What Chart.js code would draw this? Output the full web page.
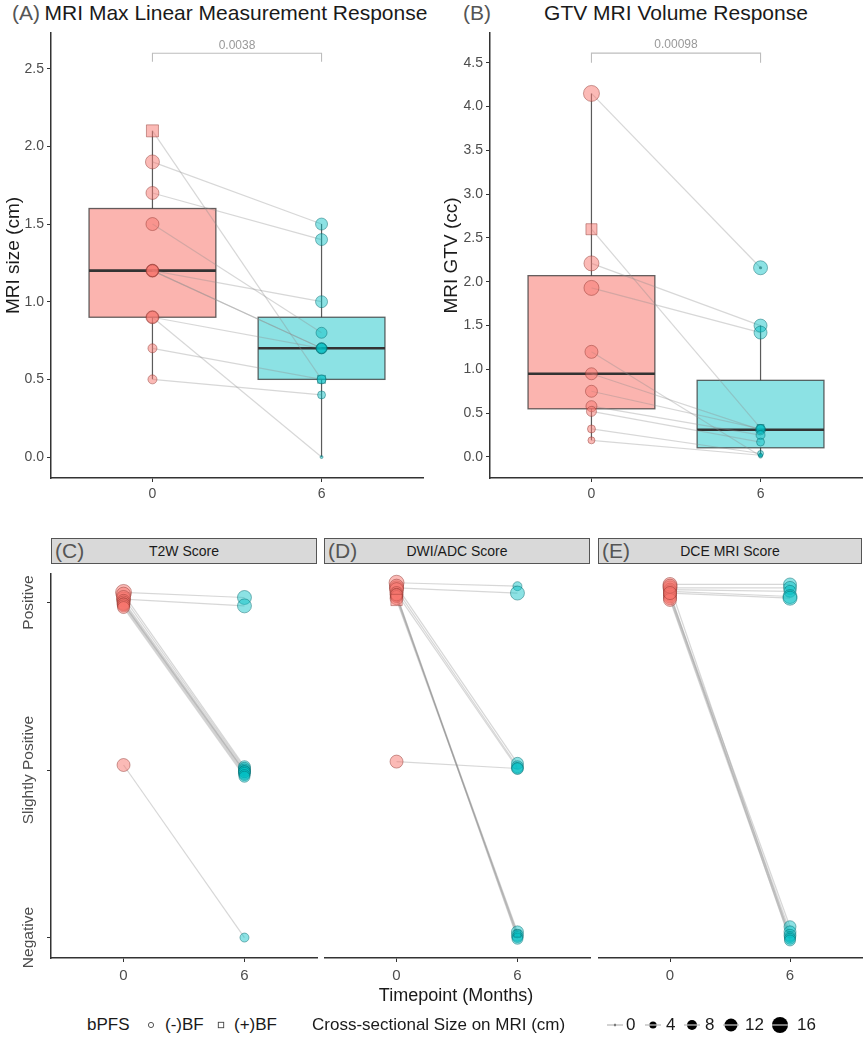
<!DOCTYPE html>
<html><head><meta charset="utf-8">
<script src="https://cdn.jsdelivr.net/npm/chart.js@4.4.1/dist/chart.umd.min.js"></script>
<style>
body{margin:0;background:#fff;}
#wrap{position:relative;width:864px;height:1050px;font-family:"Liberation Sans",Arial,sans-serif;overflow:hidden;}
.cv{position:absolute;}
.ttl{position:absolute;top:0;font-size:21px;line-height:26px;color:#1a1a1a;white-space:nowrap;}
.tag{position:absolute;top:0;font-size:21px;line-height:26px;color:#555;white-space:nowrap;}
.strip{position:absolute;top:538px;height:26px;background:#d9d9d9;border:1px solid #555;box-sizing:border-box;}
.strip .sl{position:absolute;left:3px;top:0;font-size:21px;line-height:24px;color:#555;}
.strip .sc{position:absolute;left:0;right:0;top:0;text-align:center;font-size:14px;line-height:24px;color:#1a1a1a;}
.lg{position:absolute;font-size:17px;line-height:20px;color:#1a1a1a;white-space:nowrap;}
</style></head>
<body><div id="wrap"></div>
<script>
// ---------------- DATA ----------------
const timeLabels = ['0', '6'];
const scoreLabels = ['Negative', 'Slightly Positive', 'Positive'];
const aYTicks = [0, 0.5, 1, 1.5, 2, 2.5];
const bYTicks = [0, 0.5, 1, 1.5, 2, 2.5, 3, 3.5, 4, 4.5];

// Panel A: MRI max linear measurement (cm), one entry per patient
const aT0 = [2.1, 1.9, 1.7, 1.5, 1.2, 1.2, 1.2, 0.9, 0.9, 0.7, 0.5];
const aT6 = [0.5, 1.5, 1.4, 0.8, 1.0, 0.7, 0.7, 0.7, 0.0, 0.5, 0.4];
const aBF = [1, 0, 0, 0, 0, 0, 0, 0, 0, 0, 0];
const aSize0 = [8.5, 7, 6.5, 6.5, 6.5, 6, 6, 6.5, 6, 4.5, 4.5];
const aSize6 = [5.6, 6, 6, 5.5, 6, 5.5, 5.5, 5, 1.5, 4.5, 4];
const aPval = '0.0038';
const aBracket = [2.545, 2.6];

// Panel B: GTV MRI volume (cc)
const bT0 = [4.15, 2.6, 2.21, 1.93, 1.20, 0.95, 0.75, 0.58, 0.52, 0.32, 0.19];
const bT6 = [2.16, 0.33, 1.50, 1.42, 0.01, 0.31, 0.32, 0.25, 0.17, 0.04, 0.02];
const bBF = [0, 1, 0, 0, 0, 0, 0, 0, 0, 0, 0];
const bSize0 = [8, 7.8, 7.5, 7.5, 6.5, 6, 6, 5.5, 5, 4, 3.5];
const bSize6 = [7, 5, 6.5, 6.5, 2, 5, 4.5, 4.5, 4, 3, 2];
const bPval = '0.00098';
const bBracket = [4.50, 4.61];

// Panels C-E: score (0 = Negative, 1 = Slightly Positive, 2 = Positive), jittered as read
const cT0 = [2.06, 2.02, 2.05, 2.03, 2.01, 2.0, 1.99, 1.99, 1.98, 1.97, 1.03];
const cT6 = [2.03, 1.98, 1.02, 1.01, 1.0, 0.99, 0.99, 0.98, 0.97, 0.96, 0.0];
const cBF = [0, 0, 0, 0, 0, 0, 0, 0, 0, 0, 0];
const cSize0 = [8, 7, 7, 7, 6.5, 6.5, 6.5, 6, 6, 6, 6.5];
const cSize6 = [7, 7, 6, 6, 6, 6, 6, 6, 5.5, 5.5, 4.5];

const dT0 = [2.06, 2.03, 2.04, 2.02, 2.0, 1.97, 1.99, 1.98, 1.99, 1.96, 1.02];
const dT6 = [2.04, 2.0, 1.01, 0.99, 0.98, 0.03, 0.01, 0.0, -0.01, 0.02, 0.98];
const dBF = [0, 0, 0, 0, 0, 0, 0, 0, 0, 1, 0];
const dSize0 = [7.5, 7, 7, 7, 6.5, 6.5, 6.5, 6, 6, 8, 6.5];
const dSize6 = [4.5, 7, 6, 6, 5.5, 6, 6, 5.5, 5.5, 5, 6];

const eT0 = [2.05, 2.03, 2.02, 2.01, 2.0, 1.99, 1.98, 1.97, 2.04, 1.96, 2.0];
const eT6 = [2.05, 2.03, 2.01, 1.98, 1.97, 0.06, 0.03, 0.01, 0.0, -0.01, -0.02];
const eBF = [0, 0, 0, 0, 0, 0, 0, 0, 0, 0, 0];
const eSize0 = [7, 7, 6.5, 6.5, 6.5, 6.5, 6.5, 6.5, 7, 6.5, 6.5];
const eSize6 = [6.5, 6.5, 6, 7, 7, 6, 6, 6, 5.5, 5.5, 5.5];

const legendSizes = ['0', '4', '8', '12', '16'];
const bpfsLabels = ['(-)BF', '(+)BF'];

// ---------------- STYLE ----------------
Chart.defaults.font.family = '"Liberation Sans", Arial, sans-serif';
const RED = 'rgba(248,118,109,0.5)', RED_B = 'rgba(140,50,45,0.45)';
const TEAL = 'rgba(0,191,196,0.45)', TEAL_B = 'rgba(0,100,105,0.45)';
const LINE = 'rgba(140,140,140,0.35)';
const AX = '#333';
const wrap = document.getElementById('wrap');

function el(cls, css, html){const d=document.createElement('div');d.className=cls;Object.assign(d.style,css);if(html!==undefined)d.innerHTML=html;wrap.appendChild(d);return d;}
function canvasAt(left, top, w, h){const d=el('cv',{left:left+'px',top:top+'px',width:w+'px',height:h+'px'});const c=document.createElement('canvas');c.width=w;c.height=h;c.style.width=w+'px';c.style.height=h+'px';d.appendChild(c);return c;}

function quant(arr,p){const s=[...arr].sort((a,b)=>a-b);const h=(s.length-1)*p;const lo=Math.floor(h);const hi=Math.min(lo+1,s.length-1);return s[lo]+(s[hi]-s[lo])*(h-lo);}
function boxStats(arr){const q1=quant(arr,.25),med=quant(arr,.5),q3=quant(arr,.75),iqr=q3-q1;
  const inl=arr.filter(v=>v>=q1-1.5*iqr&&v<=q3+1.5*iqr);
  return {q1,med,q3,lo:Math.min(...inl),hi:Math.max(...inl),out:arr.filter(v=>v<q1-1.5*iqr||v>q3+1.5*iqr)};}

const boxPlugin={id:'boxes',beforeDatasetsDraw(chart,args,opts){
  if(!opts||!opts.items)return;const {ctx,scales:{x,y}}=chart;ctx.save();
  opts.items.forEach(b=>{const s=b.s;
    const xl=x.getPixelForValue(b.x-0.375),xr=x.getPixelForValue(b.x+0.375),xc=x.getPixelForValue(b.x);
    const yt=y.getPixelForValue(s.q3),yb=y.getPixelForValue(s.q1),ym=y.getPixelForValue(s.med);
    ctx.strokeStyle='rgba(50,50,50,0.8)';ctx.lineWidth=1.2;ctx.beginPath();
    ctx.moveTo(xc,y.getPixelForValue(s.hi));ctx.lineTo(xc,yt);ctx.moveTo(xc,yb);ctx.lineTo(xc,y.getPixelForValue(s.lo));ctx.stroke();
    ctx.fillStyle=b.fill;ctx.fillRect(xl,yt,xr-xl,yb-yt);
    ctx.strokeStyle='rgba(50,50,50,0.75)';ctx.lineWidth=1.3;ctx.strokeRect(xl,yt,xr-xl,yb-yt);
    ctx.strokeStyle='#333';ctx.lineWidth=2.6;ctx.beginPath();ctx.moveTo(xl,ym);ctx.lineTo(xr,ym);ctx.stroke();
  });ctx.restore();}};

const sigPlugin={id:'sig',afterDatasetsDraw(chart,args,opts){
  if(!opts||!opts.text)return;const {ctx,scales:{x,y}}=chart;ctx.save();
  ctx.fillStyle='#999';ctx.font='12px "Liberation Sans", Arial, sans-serif';ctx.textAlign='center';ctx.textBaseline='bottom';
  ctx.fillText(opts.text,x.getPixelForValue(0.5),y.getPixelForValue(opts.y)-2);ctx.restore();}};

const rotPlugin={id:'rotLabels',afterDraw(chart,args,opts){
  if(!opts||!opts.labels)return;const {ctx,scales:{y}}=chart;ctx.save();
  ctx.fillStyle='#4d4d4d';ctx.font='15.5px "Liberation Sans", Arial, sans-serif';ctx.textAlign='center';ctx.textBaseline='middle';
  opts.labels.forEach((t,i)=>{ctx.save();ctx.translate(opts.x,y.getPixelForValue(i));ctx.rotate(-Math.PI/2);ctx.fillText(t,0,0);ctx.restore();});
  ctx.restore();}};

function pointsDS(vals,x,radii,bf,fill,border){
  return {data:vals.map(v=>({x,y:v})),pointRadius:radii,pointHoverRadius:radii,pointStyle:bf.map(b=>b?'rect':'circle'),
    backgroundColor:fill,borderColor:border,borderWidth:1,showLine:false,order:0};}
function pairLines(t0,t6){return t0.map((v,i)=>({data:[{x:0,y:v},{x:1,y:t6[i]}],showLine:true,pointRadius:0,borderColor:LINE,borderWidth:1.2,order:1}));}

function xScale(h,pad,size){return {type:'linear',min:-0.6,max:1.6,
  afterBuildTicks:s=>{s.ticks=timeLabels.map((t,i)=>({value:i}));},
  afterFit:s=>{s.height=h;},
  ticks:{callback:(v,i)=>timeLabels[i],color:'#4d4d4d',font:{size:size},padding:pad,autoSkip:false,maxRotation:0,minRotation:0},
  grid:{drawOnChartArea:false,drawTicks:true,tickLength:4,color:AX,lineWidth:1},
  border:{display:true,color:AX,width:1.5}};}

function topChart(canvas,o){
  const st0=boxStats(o.t0),st6=boxStats(o.t6);
  const ds=[pointsDS(o.t0,0,o.r0,o.bf,RED,RED_B),pointsDS(o.t6,1,o.r6,o.bf,TEAL,TEAL_B)];
  const outs=[...st0.out.map(v=>({x:0,y:v})),...st6.out.map(v=>({x:1,y:v}))];
  ds.push({data:outs,pointRadius:1.6,backgroundColor:'rgba(40,40,40,0.6)',borderWidth:0,showLine:false,order:0});
  ds.push(...pairLines(o.t0,o.t6));
  ds.push({data:[{x:0,y:o.br[0]},{x:0,y:o.br[1]},{x:1,y:o.br[1]},{x:1,y:o.br[0]}],showLine:true,pointRadius:0,borderColor:'#bdbdbd',borderWidth:1.1,order:2});
  return new Chart(canvas,{type:'scatter',data:{datasets:ds},plugins:[boxPlugin,sigPlugin],
    options:{responsive:false,animation:false,events:[],
      layout:{autoPadding:false,padding:{top:33,right:o.padR,left:0,bottom:0}},
      plugins:{legend:{display:false},tooltip:{enabled:false},
        boxes:{items:[{x:0,s:st0,fill:'rgba(248,118,109,0.55)'},{x:1,s:st6,fill:'rgba(0,191,196,0.45)'}]},
        sig:{text:o.pval,y:o.br[1]}},
      scales:{x:xScale(27,4,14),
        y:{type:'linear',min:o.yMin,max:o.yMax,
          afterBuildTicks:s=>{s.ticks=o.yTicks.map(v=>({value:v}));},
          afterFit:s=>{s.width=o.yW;},
          ticks:{callback:v=>Number(v).toFixed(1),color:'#4d4d4d',font:{size:14},padding:3},
          grid:{drawOnChartArea:false,drawTicks:true,tickLength:4,color:AX},
          border:{display:true,color:AX,width:1.5},
          title:{display:true,text:o.yTitle,color:'#1a1a1a',font:{size:19},padding:{top:o.tPad,bottom:0}}}}}});
}

function scoreChart(canvas,o){
  const ds=[pointsDS(o.t0,0,o.r0,o.bf,RED,RED_B),pointsDS(o.t6,1,o.r6,o.bf,TEAL,TEAL_B),...pairLines(o.t0,o.t6)];
  return new Chart(canvas,{type:'scatter',data:{datasets:ds},plugins:[rotPlugin],
    options:{responsive:false,animation:false,events:[],
      layout:{autoPadding:false,padding:{top:0,right:o.padR,left:0,bottom:0}},
      plugins:{legend:{display:false},tooltip:{enabled:false},rotLabels:o.showY?{labels:scoreLabels,x:29}:{}},
      scales:{x:xScale(36,5,15),
        y:{type:'linear',min:-0.122,max:2.169,display:o.showY,
          afterBuildTicks:s=>{s.ticks=[0,1,2].map(v=>({value:v}));},
          afterFit:s=>{s.width=o.showY?51:0;},
          ticks:{color:'rgba(0,0,0,0)',callback:(v,i)=>scoreLabels[i],padding:3},
          grid:{drawOnChartArea:false,drawTicks:true,tickLength:4,color:AX},
          border:{display:true,color:AX,width:1.5}}}}});
}

// ---------------- TITLES ----------------
el('tag',{left:'12px'},'(A)');
el('ttl',{left:'236px',transform:'translateX(-50%)'},'MRI Max Linear Measurement Response');
el('tag',{left:'463px'},'(B)');
el('ttl',{left:'676px',transform:'translateX(-50%)'},'GTV MRI Volume Response');

// ---------------- TOP CHARTS ----------------
topChart(canvasAt(0,0,432,505),{t0:aT0,t6:aT6,bf:aBF,r0:aSize0,r6:aSize6,yMin:-0.135,yMax:2.73,yTicks:aYTicks,
  yTitle:'MRI size (cm)',tPad:2,yW:51,padR:9,pval:aPval,br:aBracket});
topChart(canvasAt(432,0,432,505),{t0:bT0,t6:bT6,bf:bBF,r0:bSize0,r6:bSize6,yMin:-0.24,yMax:4.84,yTicks:bYTicks,
  yTitle:'MRI GTV (cc)',tPad:8,yW:58,padR:2,pval:bPval,br:bBracket});

// ---------------- STRIPS ----------------
const strips=[['(C)','T2W Score',51,266],['(D)','DWI/ADC Score',324,266],['(E)','DCE MRI Score',598,264]];
strips.forEach(s=>{const d=el('strip',{left:s[2]+'px',width:s[3]+'px'});d.innerHTML='<div class="sc">'+s[1]+'</div><div class="sl">'+s[0]+'</div>';});

// ---------------- BOTTOM CHARTS ----------------
scoreChart(canvasAt(0,564,320,430),{t0:cT0,t6:cT6,bf:cBF,r0:cSize0,r6:cSize6,showY:true,padR:3});
scoreChart(canvasAt(324,564,268,430),{t0:dT0,t6:dT6,bf:dBF,r0:dSize0,r6:dSize6,showY:false,padR:2});
scoreChart(canvasAt(598,564,266,430),{t0:eT0,t6:eT6,bf:eBF,r0:eSize0,r6:eSize6,showY:false,padR:2});

el('lg',{left:'456px',top:'984px',fontSize:'18px',lineHeight:'22px',transform:'translateX(-50%)'},'Timepoint (Months)');

// ---------------- LEGEND ----------------
const LY=1015;
el('lg',{left:'87px',top:LY+'px'},'bPFS');
const bpfsSym=['<circle cx="6" cy="10" r="2.6" fill="none" stroke="#444" stroke-width="0.9"/>','<rect x="3.3" y="7.3" width="5.4" height="5.4" fill="none" stroke="#444" stroke-width="0.9"/>'];
const bpfsX=[145,215],bpfsTX=[165,234];
bpfsLabels.forEach((t,i)=>{el('lg',{left:bpfsX[i]+'px',top:LY+'px'},'<svg width="12" height="20">'+bpfsSym[i]+'</svg>');el('lg',{left:bpfsTX[i]+'px',top:LY+'px'},t);});
el('lg',{left:'312px',top:LY+'px'},'Cross-sectional Size on MRI (cm)');
const keyX=[606,644,683,722,771],keyR=[1.2,3.6,5,6.5,8],keyTX=[626,666,705,745,797];
legendSizes.forEach((t,i)=>{
  el('lg',{left:keyX[i]+'px',top:(LY-2)+'px'},'<svg width="18" height="24"><circle cx="9" cy="12" r="'+keyR[i]+'" fill="#000"/><line x1="1" y1="12" x2="17" y2="12" stroke="#bbb" stroke-width="1.3"/></svg>');
  el('lg',{left:keyTX[i]+'px',top:LY+'px'},t);});
</script></body></html>
